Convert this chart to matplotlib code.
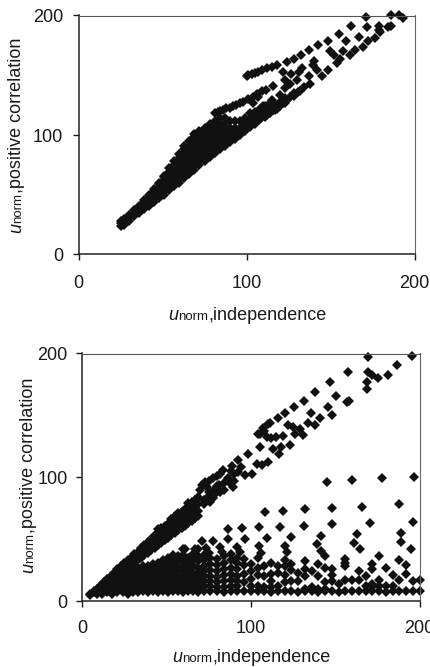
import matplotlib
matplotlib.use("Agg")
import matplotlib.pyplot as plt

plt.rcParams['font.family'] = ['Liberation Sans', 'DejaVu Sans']

ticks = [0, 100, 200]
ink = '#111111'

# upper panel, dense band: one x per column with the y values stacked on it
top_band_x = [25, 27, 30, 33, 36, 39, 42, 45, 48, 51, 54, 57, 60, 63, 66, 69, 72, 75, 78, 81, 84, 87, 90, 93, 96, 99, 102,
              105, 108, 111, 114, 117, 120, 123]
top_band_y = [
    [24, 26, 28], [25, 27, 30], [28, 31, 33], [32, 35, 37], [35, 38, 41], [38, 41, 44, 46],
    [41, 44, 47, 50], [44, 47, 50, 53, 55], [47, 50, 53, 56, 59, 60], [50, 53, 56, 59, 62, 65, 66],
    [54, 57, 60, 63, 66, 69, 72], [57, 60, 63, 66, 69, 72, 75, 78], [60, 63, 66, 69, 72, 75, 78, 81, 84],
    [64, 67, 70, 73, 76, 79, 82, 85, 88, 91], [67, 70, 73, 76, 79, 82, 85, 88, 91, 95],
    [71, 74, 77, 80, 83, 86, 89, 92, 95, 98, 101], [75, 78, 81, 84, 87, 90, 93, 96, 99, 103],
    [78, 81, 84, 87, 90, 93, 96, 99, 102, 106], [82, 85, 88, 91, 94, 97, 100, 103, 106, 109],
    [85, 88, 91, 94, 97, 100, 103, 106, 109, 112], [88, 91, 94, 97, 100, 103, 106, 109, 114],
    [91, 94, 97, 100, 103, 106, 110, 114], [94, 97, 100, 103, 106, 112], [97, 100, 103, 106, 112],
    [100, 103, 106, 112], [103, 106, 109, 114], [107, 110, 113, 118],
    [110, 113, 119], [113, 116, 122], [115, 118, 124], [118, 121, 127], [121, 125], [124, 128], [127, 131],
]
# upper panel, single diamonds above the band
top_x = [171, 186, 190.5, 193, 171.6, 162.3, 155, 148.6, 142.6, 137, 132.3, 128, 124, 118, 115, 112, 109, 107, 105, 103, 101, 100,
         179, 178.6, 184.5, 186, 166.7, 159, 169.6, 172.6, 176.6, 179.6, 164.7, 161.7, 157.7, 149.8, 151.8, 155.8,
         153.8, 148.8, 140, 139.5, 142, 144.8, 138, 137, 133, 131, 126.4, 122, 134.3, 130.6, 130, 126, 123, 123,
         116, 111.5, 120, 115, 107, 104, 81, 83, 84, 86, 88, 90, 92, 94, 96, 98, 101, 104, 106, 109, 112, 116, 119, 122, 126, 128, 110, 114,
         105, 108, 112, 116, 120, 124, 128, 132, 103, 107, 110, 113, 118, 122]
top_y = [199, 200, 200, 198, 190, 191.6, 184.7, 179, 175, 171, 167, 163.7, 161.5, 158.7, 157, 156, 154, 153, 152, 151, 150, 149,
         191, 188, 190, 191, 182.4, 179, 174, 179, 181, 186, 171, 167, 170, 170, 167, 164,
         160, 154.5, 162, 158.7, 154.5, 149, 143, 149, 156, 153, 151, 153, 140, 135.6, 146, 143, 146, 139,
         141, 138, 133.6, 129, 132, 126.6, 118, 119, 119.7, 121, 122.5, 123, 124.4, 125, 126.6, 128, 130, 132, 134, 137, 118, 121, 125, 128, 132, 135, 124, 126,
         109, 113, 117, 121, 125, 129, 133, 137, 115, 120, 122, 118, 122, 127]

# lower panel, diagonal band
diag_band_x = [5, 7, 9, 11, 13, 15, 17, 19, 21, 23, 25, 27, 29, 31, 33, 35, 37, 39, 41, 43, 45, 47, 49, 51, 53, 55, 57, 59, 61, 63, 65, 67, 69]
diag_band_y = [
    [5, 6], [7, 8], [9, 10], [11, 13], [13, 15], [15, 18], [17, 20], [19, 23], [21, 24, 26], [23, 26, 28], [25, 28, 31],
    [27, 30, 33], [29, 32, 35], [31, 34, 38], [33, 36, 40], [35, 38, 43], [37, 41, 45], [39, 43, 48], [41, 45, 50], [43, 47, 53],
    [45, 49, 53, 58], [47, 51, 55, 59], [49, 53, 57, 61], [51, 55, 59, 62], [53, 57, 62, 66], [55, 59, 64, 69],
    [57, 61, 66, 71], [59, 63, 68, 72], [61, 65, 70, 74], [63, 67, 72, 76, 79], [65, 69, 74, 78, 80], [67, 71, 76, 82], [69, 73, 78, 84],
]
diag_x = [195.5, 169.6, 157.7, 147, 138, 131.6, 125.7, 120, 116, 111.5, 104.5, 98.6, 92.7, 88.7, 83.8, 77.9, 71, 73, 75, 80, 82,
          186.5, 181.6, 175.7, 171.7, 169.6, 168.8, 168.8, 150.4, 158, 157, 145.6, 135.6, 148, 141, 138, 131, 125, 122, 126, 123,
          118, 117, 113, 115, 109.5, 105.5, 107.5, 110.5, 105.5, 110.5, 106.5, 100.6, 103.5, 96.6, 92.7, 86.8, 89.7, 81.8, 77.9,
          72, 75, 84, 78, 90, 94, 88, 80, 70, 108, 112, 119, 134, 129, 72, 75, 78, 81, 84, 87, 90, 74, 76]
diag_y = [198, 196.8, 185, 176.6, 168.5, 162, 157, 152, 148, 143.5, 135, 119, 114, 109, 105.8, 99, 93.7, 96, 97, 101, 103,
          190.6, 183, 180, 182.5, 185, 177, 171, 166, 162, 161, 157, 152, 150, 147.5, 142, 134, 141, 142, 135, 126,
          124.6, 119, 123, 132.7, 132.7, 135, 139.4, 142.7, 124.6, 112.5, 110, 103, 111, 101.7, 104, 99, 92, 88, 83,
          78, 85, 95, 90, 97, 108, 105, 93, 90, 137, 132, 133, 144, 139, 82, 88, 86, 94, 90, 96, 103, 92, 80]

# lower panel, wedge under the diagonal
wedge_band_x = [9, 12, 15, 18, 21, 24, 27, 30, 33, 36, 39, 42, 45, 48, 51, 54, 57, 60, 63, 66, 69]
wedge_band_y = [
    [6, 8], [6, 9], [7, 10, 13], [6, 9, 12, 15, 17], [7, 10, 13, 16, 19], [7, 10, 13, 16, 19, 21], [6, 9, 12, 15, 18, 21, 23],
    [7, 10, 13, 16, 19, 22, 25], [7, 10, 13, 16, 19, 22, 25, 27], [8, 11, 14, 17, 20, 23, 26, 28], [7, 10, 13, 16, 19, 22, 25, 28],
    [8, 11, 14, 17, 20, 23, 26, 29, 30], [7, 10, 13, 16, 19, 22, 25, 28, 31], [8, 11, 14, 17, 20, 23, 26, 29, 33],
    [7, 10, 13, 16, 19, 22, 25, 28, 31, 35], [8, 11, 14, 17, 20, 23, 26, 30, 34, 37], [8, 11, 14, 17, 20, 24, 28, 32, 36],
    [7, 10, 13, 16, 20, 24, 28, 33, 37, 42], [8, 11, 14, 17, 21, 25, 30, 35], [8, 11, 15, 19, 23, 28, 33, 38], [7, 10, 14, 18, 22, 27, 32, 36, 42],
]

# lower panel, columns further right, thinning out
right_x = [72, 76, 80, 84, 88, 92, 96, 100, 104, 108, 112, 116, 120, 124, 128, 132, 136, 140, 144, 148, 152,
           156, 160, 164, 168, 172, 176, 180, 184, 188, 192, 196, 200]
right_y = [
    [8, 12, 16, 20, 24, 28, 33, 37], [8, 12, 16, 20, 25, 30, 35], [8, 11, 15, 19, 24, 29, 34], [7, 11, 16, 21, 26, 31, 36],
    [8, 12, 17, 22, 27, 33, 38], [8, 12, 16, 20, 26, 31, 35], [8, 15, 22, 29, 34], [8, 12, 18, 24, 30], [8, 12, 21, 27, 35],
    [8, 11, 20, 28], [7, 11, 16, 22, 31], [8, 12, 23, 28], [8, 15, 21, 28, 33], [8, 16, 25, 30], [7, 16, 23],
    [8, 10, 20, 26, 32], [8, 11, 24], [7, 10, 20, 30], [8, 10, 15, 27, 36], [8, 16, 21, 26], [7, 14],
    [8, 17, 28, 31, 34], [8, 17], [8, 17, 24], [8, 12, 20], [8, 11, 14, 26, 30], [8, 12, 17, 36],
    [7, 12, 27], [8, 12, 21], [8, 17, 33], [8, 22, 29], [8, 16], [8, 17],
]

# lower panel, the separate diamonds higher up
low_x = [145, 160, 178, 197, 108.5, 119.4, 132, 148, 166, 188, 196.4, 170.7, 148, 131.6, 117.4, 104.7, 94.6, 86.4, 86.7, 77.9, 71,
         96.6, 109.5, 124, 141.5, 163, 189, 189, 161.4, 139, 120, 105, 92, 81.8, 73.5, 67, 61, 195, 165, 141.5, 121.4, 106, 93.7, 82.8, 75]
low_y = [96.4, 97.4, 99, 100.4, 72, 73, 74, 75, 76, 78, 64, 62.7, 62, 61, 60, 60, 58.7, 58, 50, 48.7, 48.7,
         49.8, 51, 52, 52.7, 53.8, 54.6, 48, 46.5, 45.7, 44.7, 44.7, 44, 44, 43, 42, 42, 42, 41.7, 40.4, 39.8, 39, 39.8, 39.8, 38.5]


def flatten(xs, ys):
    out_x, out_y = [], []
    for x, col in zip(xs, ys):
        for y in col:
            out_x.append(x)
            out_y.append(y)
    return out_x, out_y


def axis_in_pixels(fig, left, right, top, bottom):
    w, h = fig.get_size_inches() * fig.dpi
    return fig.add_axes([left / w, 1 - bottom / h, (right - left) / w, (bottom - top) / h])


def pieces(fig, x, y, parts, rotated=False):
    # label is three runs of text (italic u, small "norm", rest), placed one after the other
    w, h = fig.get_size_inches() * fig.dpi
    renderer = fig.canvas.get_renderer()
    for s, size, style in parts:
        t = fig.text(x / w, 1 - y / h, s, fontsize=size, style=style, color='#1a1a1a',
                     rotation=90 if rotated else 0, ha='left', va='baseline',
                     rotation_mode='anchor')
        box = t.get_window_extent(renderer)
        if rotated:
            y -= box.height
        else:
            x += box.width


def style_axis(ax, xpad, ypad):
    ax.set_xlim(0, 200)
    ax.set_ylim(0, 200)
    ax.set_xticks(ticks)
    ax.set_yticks(ticks)
    ax.tick_params(axis='x', length=4, width=1, labelsize=13, pad=xpad, colors='#1a1a1a')
    ax.tick_params(axis='y', length=4, width=1, labelsize=13, pad=ypad, colors='#1a1a1a')
    ax.spines['left'].set_color('#222222')
    ax.spines['bottom'].set_color('#222222')
    ax.spines['left'].set_linewidth(1.1)
    ax.spines['bottom'].set_linewidth(1.1)
    ax.spines['top'].set_color('#555555')
    ax.spines['right'].set_color('#666666')
    ax.spines['top'].set_linewidth(0.8)
    ax.spines['right'].set_linewidth(0.8)


def diamonds(ax, x, y):
    ax.plot(x, y, linestyle='none', marker='D', markersize=4.8, markeredgewidth=0,
            color=ink, clip_on=False)


fig = plt.figure(figsize=(4.31, 6.67), dpi=100)

ax1 = axis_in_pixels(fig, 78.5, 414.5, 15.5, 254.5)
style_axis(ax1, 11, 7)
bx, by = flatten(top_band_x, top_band_y)
diamonds(ax1, bx + top_x, by + top_y)

ax2 = axis_in_pixels(fig, 82, 419.5, 353.5, 601)
style_axis(ax2, 10, 6.5)
dx, dy = flatten(diag_band_x, diag_band_y)
wx, wy = flatten(wedge_band_x, wedge_band_y)
rx, ry = flatten(right_x, right_y)
diamonds(ax2, dx + diag_x + wx + rx + low_x, dy + diag_y + wy + ry + low_y)

label_x = [('u', 13, 'italic'), ('norm', 9.5, 'normal'), (',independence', 13, 'normal')]
label_y = [('u', 13, 'italic'), ('norm', 9.5, 'normal'), (',positive correlation', 13, 'normal')]
pieces(fig, 168, 320, label_x)
pieces(fig, 21, 233, label_y, rotated=True)
pieces(fig, 172, 662, label_x)
pieces(fig, 33, 573, label_y, rotated=True)

fig.savefig('out.png', dpi=100)
